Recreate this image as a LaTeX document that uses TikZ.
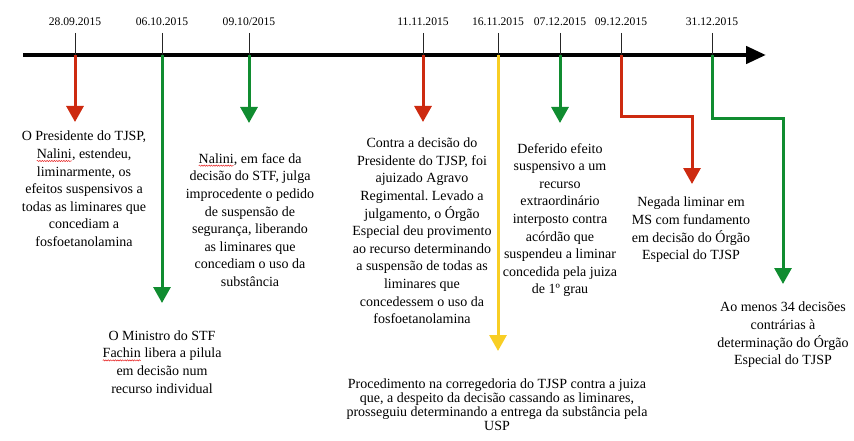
\documentclass[tikz,border=0pt]{standalone}
\usepackage{fontspec}
\setmainfont{Liberation Serif}
\usetikzlibrary{arrows.meta,decorations.pathmorphing}
\frenchspacing
\definecolor{tlred}{RGB}{205,42,16}
\definecolor{tlgreen}{RGB}{16,140,48}
\definecolor{tlyellow}{RGB}{248,206,36}
\definecolor{errred}{RGB}{230,30,30}
\newcommand\spellerr[1]{\tikz[baseline=(sw.base)]{\node[inner sep=0pt,outer sep=0pt,anchor=base](sw){#1};\draw[errred,line width=0.5pt,decorate,decoration={snake,amplitude=0.6pt,segment length=2.4pt}]([yshift=-2.4pt]sw.base west)--([yshift=-2.4pt]sw.base east);}}
\tikzset{
  axisline/.style={line width=4.5pt,-{Triangle[length=20pt,width=17pt]}},
  tickline/.style={line width=0.9pt,draw=black!85},
  datelbl/.style={inner sep=0pt,font={\fontsize{11.6}{13}\selectfont}},
  evarrow/.style={line width=3pt,-{Triangle[length=16pt,width=17pt]}},
  evtext/.style={inner sep=0pt,align=center,font={\fontsize{14}{17.6}\selectfont}},
  evtextsmall/.style={inner sep=0pt,align=center,font={\fontsize{14}{14}\selectfont}},
}
\begin{document}
\begin{tikzpicture}[x=1pt,y=-1pt]
\useasboundingbox (0,0) rectangle (854,441);
% axis
\coordinate (a0) at (23,55);
\coordinate (a1) at (766,55);
\draw[axisline] (a0) -- (a1);
% tick points on axis and tick tops
\coordinate (t1) at (75,55);  \coordinate (k1) at (75,33);
\coordinate (t2) at (162,55); \coordinate (k2) at (162,33);
\coordinate (t3) at (249,55); \coordinate (k3) at (249,33);
\coordinate (t4) at (423,55); \coordinate (k4) at (423,33);
\coordinate (t5) at (498,55); \coordinate (k5) at (498,33);
\coordinate (t6) at (560,55); \coordinate (k6) at (560,33);
\coordinate (t7) at (621,55); \coordinate (k7) at (621,33);
\coordinate (t8) at (712,55); \coordinate (k8) at (712,33);
\foreach \i in {1,...,8} {\draw[tickline] (k\i) -- (t\i);}
% dates
\node[datelbl] (d1) at (75,22) {28.09.2015};
\node[datelbl] (d2) at (162,22) {06.10.2015};
\node[datelbl] (d3) at (249,22) {09.10/2015};
\node[datelbl] (d4) at (423,22) {11.11.2015};
\node[datelbl] (d5) at (498,22) {16.11.2015};
\node[datelbl] (d6) at (560,22) {07.12.2015};
\node[datelbl] (d7) at (621,22) {09.12.2015};
\node[datelbl] (d8) at (712,22) {31.12.2015};
% arrow ends
\coordinate (e1) at (75,122);
\coordinate (e2) at (162,303);
\coordinate (e3) at (249,123);
\coordinate (e4) at (423,122);
\coordinate (e5) at (498,351);
\coordinate (e6) at (560,123);
\coordinate (c7) at (692,117);
\coordinate (e7) at (692,184);
\coordinate (c8) at (783,119);
\coordinate (e8) at (783,284);
\draw[evarrow,tlred] (t1) -- (e1);
\draw[evarrow,tlgreen] (t2) -- (e2);
\draw[evarrow,tlgreen] (t3) -- (e3);
\draw[evarrow,tlred] (t4) -- (e4);
\draw[evarrow,tlyellow] (t5) -- (e5);
\draw[evarrow,tlgreen] (t6) -- (e6);
\draw[evarrow,tlred] (t7) |- (c7) -- (e7);
\draw[evarrow,tlgreen] (t8) |- (c8) -- (e8);
% texts
\node[evtext] (b1) at (84,189) {O Presidente do TJSP,\\\spellerr{Nalini}, estendeu,\\liminarmente, os\\efeitos suspensivos a\\todas as liminares que\\concediam a\\fosfoetanolamina};
\node[evtext] (b2) at (250,220) {\spellerr{Nalini}, em face da\\decisão do STF, julga\\improcedente o pedido\\de suspensão de\\segurança, liberando\\as liminares que\\concediam o uso da\\substância};
\node[evtext] (b3) at (422,231) {Contra a decisão do\\Presidente do TJSP, foi\\ajuizado Agravo\\Regimental. Levado a\\julgamento, o Órgão\\Especial deu provimento\\ao recurso determinando\\a suspensão de todas as\\liminares que\\concedessem o uso da\\fosfoetanolamina};
\node[evtext] (b4) at (560,220) {Deferido efeito\\suspensivo a um\\recurso\\extraordinário\\interposto contra\\acórdão que\\suspendeu a liminar\\concedida pela juiza\\de 1º grau};
\node[evtext] (b5) at (691,230) {Negada liminar em\\MS com fundamento\\em decisão do Órgão\\Especial do TJSP};
\node[evtext] (b6) at (783,335) {Ao menos 34 decisões\\contrárias à\\determinação do Órgão\\Especial do TJSP};
\node[evtext] (b7) at (162,362) {O Ministro do STF\\\spellerr{Fachin} libera a pilula\\em decisão num\\recurso individual};
\node[evtextsmall] (b8) at (497,405) {Procedimento na corregedoria do TJSP contra a juiza\\que, a despeito da decisão cassando as liminares,\\prosseguiu determinando a entrega da substância pela\\USP};
\end{tikzpicture}
\end{document}
